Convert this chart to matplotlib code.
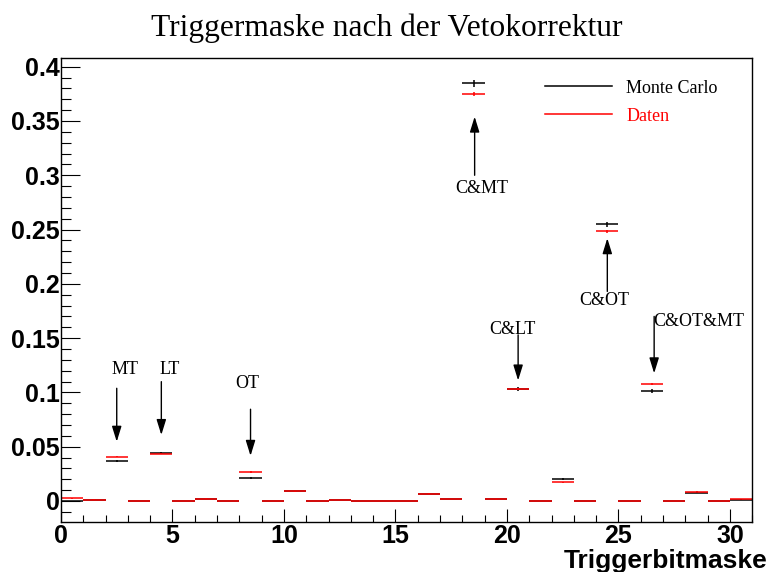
import numpy as np
import matplotlib
matplotlib.use('Agg')
import matplotlib.pyplot as plt
from matplotlib.lines import Line2D
from matplotlib.ticker import MultipleLocator

# trigger bit mask bins 0..30, fraction of events after veto correction
bin_edges = np.arange(0, 32)
mc_vals = [0.0, 0.0012, 0.0368, 0.0, 0.0442, 0.0, 0.0021, 0.0, 0.0212, 0.0,
           0.0089, 0.0, 0.0009, 0.0, 0.0, 0.0, 0.0067, 0.0018, 0.3846, 0.0015,
           0.1029, 0.0, 0.0203, 0.0, 0.2548, 0.0, 0.1016, 0.0, 0.0075, 0.0, 0.0012]
mc_errs = [0.0, 0.0004, 0.0012, 0.0, 0.0013, 0.0, 0.0005, 0.0, 0.0010, 0.0,
           0.0007, 0.0, 0.0003, 0.0, 0.0, 0.0, 0.0006, 0.0004, 0.0032, 0.0004,
           0.0018, 0.0, 0.0010, 0.0, 0.0026, 0.0, 0.0018, 0.0, 0.0006, 0.0, 0.0004]
data_vals = [0.0025, 0.0012, 0.0408, 0.0, 0.0436, 0.0, 0.0021, 0.0, 0.0267, 0.0,
             0.0089, 0.0, 0.0009, 0.0, 0.0, 0.0, 0.0067, 0.0018, 0.3749, 0.0015,
             0.1029, 0.0, 0.0172, 0.0, 0.2484, 0.0, 0.1075, 0.0, 0.0086, 0.0, 0.0018]
data_errs = [0.0003, 0.0002, 0.0006, 0.0, 0.0006, 0.0, 0.0002, 0.0, 0.0005, 0.0,
             0.0003, 0.0, 0.0001, 0.0, 0.0, 0.0, 0.0003, 0.0002, 0.0018, 0.0002,
             0.0010, 0.0, 0.0004, 0.0, 0.0015, 0.0, 0.0010, 0.0, 0.0003, 0.0, 0.0002]

# trigger combination labels with their arrows
labels = ['MT', 'LT', 'OT', 'C&MT', 'C&LT', 'C&OT', 'C&OT&MT']
label_x = [2.87, 4.89, 8.34, 18.86, 20.25, 24.35, 28.6]
label_y = [0.1213, 0.1213, 0.1084, 0.288, 0.158, 0.185, 0.165]
arrow_x = [2.5, 4.5, 8.5, 18.55, 20.5, 24.5, 26.6]
arrow_from = [0.1038, 0.1099, 0.0845, 0.300, 0.153, 0.193, 0.170]
arrow_to = [0.0546, 0.0608, 0.0416, 0.354, 0.111, 0.242, 0.1176]

serif = 'Liberation Serif'
sans = 'Liberation Sans'

fig = plt.figure(figsize=(7.71, 5.72), dpi=100)
ax = fig.add_axes([0.0791, 0.0879, 0.8966, 0.8101])

centers = (bin_edges[:-1] + bin_edges[1:]) / 2
ax.errorbar(centers, mc_vals, xerr=0.5, yerr=mc_errs, fmt='none',
            ecolor='black', elinewidth=1.1, capsize=0)
ax.errorbar(centers, data_vals, xerr=0.5, yerr=data_errs, fmt='none',
            ecolor='red', elinewidth=1.1, capsize=0)

for txt, tx, ty, axx, y0, y1 in zip(labels, label_x, label_y, arrow_x, arrow_from, arrow_to):
    ax.annotate('', xy=(axx, y1), xytext=(axx, y0),
                arrowprops=dict(arrowstyle='-|>,head_length=0.55,head_width=0.17',
                                color='black', lw=1.0, mutation_scale=17,
                                shrinkA=0, shrinkB=0))
    ax.text(tx, ty, txt, ha='center', va='center', fontsize=13, family=serif)

ax.set_xlim(0, 31)
ax.set_ylim(-0.0191, 0.4077)

ax.xaxis.set_major_locator(MultipleLocator(5))
ax.xaxis.set_minor_locator(MultipleLocator(1))
ax.yaxis.set_major_locator(MultipleLocator(0.05))
ax.yaxis.set_minor_locator(MultipleLocator(0.01))
ax.yaxis.set_major_formatter(plt.FuncFormatter(lambda v, p: f'{v:g}'))
ax.xaxis.set_major_formatter(plt.FuncFormatter(lambda v, p: f'{v:g}'))

ax.tick_params(axis='both', which='both', direction='in', width=0.8,
               top=False, right=False)
ax.tick_params(axis='x', which='major', length=9.5, pad=1.5)
ax.tick_params(axis='x', which='minor', length=5)
ax.tick_params(axis='y', which='major', length=14, pad=1)
ax.tick_params(axis='y', which='minor', length=7)
for lab in ax.get_xticklabels() + ax.get_yticklabels():
    lab.set_fontsize(18)
    lab.set_fontweight('bold')
    lab.set_family(sans)
for sp in ax.spines.values():
    sp.set_linewidth(1.0)

ax.set_xlabel('Triggerbitmaske', fontsize=19, fontweight='bold', family=sans)
ax.xaxis.set_label_coords(1.022, -0.058)
ax.xaxis.label.set_ha('right')

handles = [Line2D([], [], color='black', lw=1.1), Line2D([], [], color='red', lw=1.1)]
ax.legend(handles, ['Monte Carlo', 'Daten'], loc='upper left',
          bbox_to_anchor=(0.677, 0.989), frameon=False,
          prop={'family': serif, 'size': 13}, handlelength=3.7,
          handletextpad=0.8, labelspacing=0.6, labelcolor='linecolor')

fig.text(0.502, 0.951, 'Triggermaske nach der Vetokorrektur', ha='center',
         va='center', fontsize=22.7, family=serif)

fig.savefig('out.png', dpi=100)
